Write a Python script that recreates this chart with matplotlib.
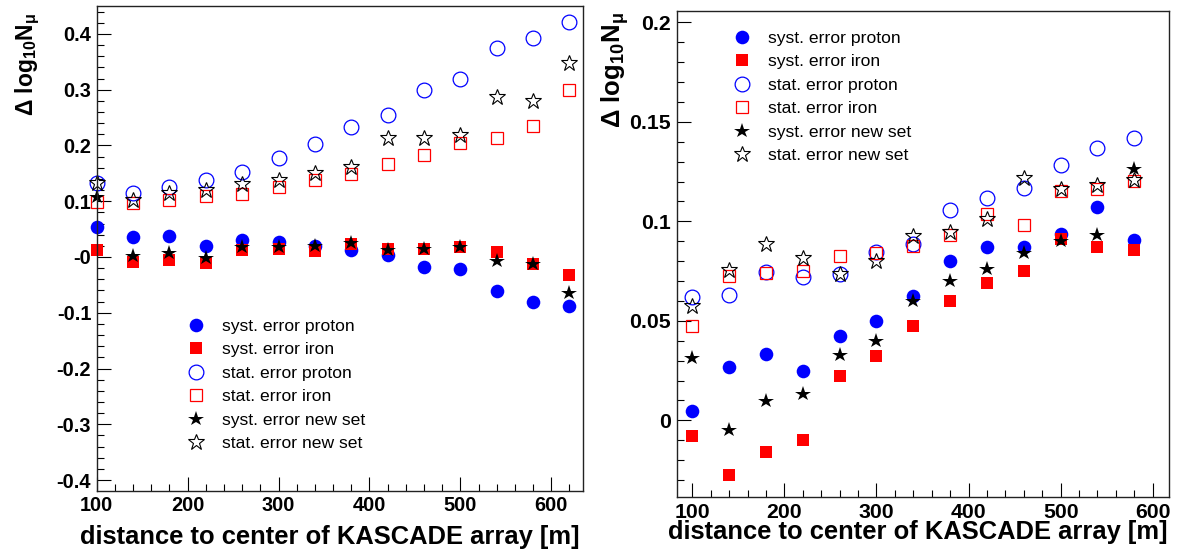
import matplotlib
matplotlib.use("Agg")
import matplotlib.pyplot as plt
from matplotlib.ticker import FixedLocator, MultipleLocator, FixedFormatter

# ---------------- data ----------------
distance_left = [100, 140, 180, 220, 260, 300, 340, 380, 420, 460, 500, 540, 580, 620]
syst_proton_left = [0.054, 0.036, 0.038, 0.019, 0.030, 0.027, 0.020, 0.012, 0.004, -0.018, -0.022, -0.061, -0.081, -0.087]
syst_iron_left = [0.012, -0.009, -0.005, -0.011, 0.013, 0.015, 0.011, 0.024, 0.015, 0.015, 0.018, 0.009, -0.012, -0.033]
stat_proton_left = [0.133, 0.115, 0.126, 0.138, 0.152, 0.177, 0.202, 0.233, 0.255, 0.299, 0.319, 0.374, 0.393, 0.421]
stat_iron_left = [0.098, 0.097, 0.103, 0.109, 0.113, 0.125, 0.138, 0.148, 0.167, 0.183, 0.205, 0.214, 0.235, 0.299]
syst_new_left = [0.108, 0.001, 0.007, -0.002, 0.018, 0.018, 0.019, 0.025, 0.012, 0.015, 0.018, -0.007, -0.012, -0.065]
stat_new_left = [0.133, 0.102, 0.114, 0.121, 0.130, 0.138, 0.151, 0.162, 0.214, 0.214, 0.219, 0.286, 0.280, 0.348]

distance_right = [100, 140, 180, 220, 260, 300, 340, 380, 420, 460, 500, 540, 580]
syst_proton_right = [0.0049, 0.0268, 0.0333, 0.0246, 0.0425, 0.0498, 0.0624, 0.0800, 0.0872, 0.0872, 0.0938, 0.1073, 0.0905]
syst_iron_right = [-0.0077, -0.0274, -0.0157, -0.0098, 0.0224, 0.0321, 0.0476, 0.0598, 0.0691, 0.0749, 0.0909, 0.0872, 0.0858]
stat_proton_right = [0.0618, 0.0632, 0.0745, 0.0720, 0.0733, 0.0847, 0.0887, 0.1056, 0.1115, 0.1169, 0.1283, 0.1370, 0.1421]
stat_iron_right = [0.0472, 0.0725, 0.0738, 0.0749, 0.0828, 0.0842, 0.0875, 0.0933, 0.1035, 0.0979, 0.1152, 0.1160, 0.1202]
syst_new_right = [0.0313, -0.0051, 0.0095, 0.0133, 0.0330, 0.0400, 0.0602, 0.0699, 0.0758, 0.0842, 0.0900, 0.0931, 0.1265]
stat_new_right = [0.0573, 0.0755, 0.0884, 0.0817, 0.0733, 0.0800, 0.0926, 0.0948, 0.1010, 0.1220, 0.1161, 0.1181, 0.1206]

series_labels = ["syst. error proton", "syst. error iron", "stat. error proton",
                 "stat. error iron", "syst. error new set", "stat. error new set"]

x_ticks = [100, 200, 300, 400, 500, 600]
x_tick_labels = ["100", "200", "300", "400", "500", "600"]
y_ticks_left = [-0.4, -0.3, -0.2, -0.1, 0.0, 0.1, 0.2, 0.3, 0.4]
y_tick_labels_left = ["-0.4", "-0.3", "-0.2", "-0.1", "-0", "0.1", "0.2", "0.3", "0.4"]
y_ticks_right = [0.0, 0.05, 0.1, 0.15, 0.2]
y_tick_labels_right = ["0", "0.05", "0.1", "0.15", "0.2"]

x_label = "distance to center of KASCADE array [m]"
y_label = r"$\Delta\ \mathbf{log}_{\mathbf{10}}\mathbf{N}_{\mu}$"

# ---------------- style ----------------
plt.rcParams["font.family"] = ["Liberation Sans", "DejaVu Sans"]
plt.rcParams["mathtext.fontset"] = "custom"
plt.rcParams["mathtext.rm"] = "Liberation Sans"
plt.rcParams["mathtext.bf"] = "Liberation Sans:bold"
plt.rcParams["mathtext.it"] = "Liberation Sans:italic"
plt.rcParams["mathtext.default"] = "bf"

W, H = 1179, 554
fig = plt.figure(figsize=(W / 100, H / 100), dpi=100)

BLUE = "#0000ff"
RED = "#ff0000"
BLACK = "#000000"


def px_rect(l, t, r, b):
    return [l / W, 1 - b / H, (r - l) / W, (b - t) / H]


styles = [
    dict(marker="o", ms=9.8, mfc=BLUE, mec=BLUE, mew=0),
    dict(marker="s", ms=9.0, mfc=RED, mec=RED, mew=0),
    dict(marker="o", ms=10.6, mfc="none", mec=BLUE, mew=0.9),
    dict(marker="s", ms=8.8, mfc="none", mec=RED, mew=0.9),
    dict(marker="*", ms=11.5, mfc=BLACK, mec=BLACK, mew=0),
    dict(marker="*", ms=12.0, mfc="none", mec=BLACK, mew=0.8),
]


def make_panel(rect, x, ys, xlim, ylim, yticks, yticklabels, yminor, tick_fs,
               legend_anchor):
    ax = fig.add_axes(rect)
    handles = []
    for y, st, lab in zip(ys, styles, series_labels):
        h, = ax.plot(x, y, linestyle="none", clip_on=False, label=lab, **st)
        handles.append(h)
    ax.set_xlim(*xlim)
    ax.set_ylim(*ylim)
    ax.xaxis.set_major_locator(FixedLocator(x_ticks))
    ax.xaxis.set_major_formatter(FixedFormatter(x_tick_labels))
    ax.xaxis.set_minor_locator(MultipleLocator(20))
    ax.yaxis.set_major_locator(FixedLocator(yticks))
    ax.yaxis.set_major_formatter(FixedFormatter(yticklabels))
    ax.yaxis.set_minor_locator(MultipleLocator(yminor))
    ax.tick_params(which="both", direction="in", top=False, right=False,
                   width=0.8, colors="black")
    ax.tick_params(which="major", length=10, pad=4, labelsize=tick_fs)
    ax.tick_params(which="minor", length=5)
    for lab in ax.get_xticklabels() + ax.get_yticklabels():
        lab.set_fontweight("bold")
    for sp in ax.spines.values():
        sp.set_linewidth(1.0)
        sp.set_color("#222222")
    ax.legend(handles=handles, loc="upper left",
              bbox_to_anchor=(legend_anchor[0] / W, 1 - legend_anchor[1] / H),
              bbox_transform=fig.transFigure, frameon=False,
              fontsize=12.6, handlelength=1.0, handletextpad=0.99,
              labelspacing=0.47, borderpad=0, borderaxespad=0,
              numpoints=1)
    return ax


make_panel(px_rect(96.7, 6, 582.5, 490.7), distance_left,
           [syst_proton_left, syst_iron_left, stat_proton_left, stat_iron_left,
            syst_new_left, stat_new_left],
           (100, 634.4), (-0.419, 0.450), y_ticks_left, y_tick_labels_left,
           0.02, 14.4, (187, 318.5))

make_panel(px_rect(676.7, 11, 1169, 497.3), distance_right,
           [syst_proton_right, syst_iron_right, stat_proton_right, stat_iron_right,
            syst_new_right, stat_new_right],
           (83.1, 617.7), (-0.0387, 0.2057), y_ticks_right, y_tick_labels_right,
           0.01, 15.3, (733.5, 30.5))

fig.text(580 / W, 1 - 536.7 / H, x_label, ha="right", va="center",
         fontsize=18.4, fontweight="bold")
fig.text(1168 / W, 1 - 531.7 / H, x_label, ha="right", va="center",
         fontsize=18.4, fontweight="bold")
fig.text(28 / W, 1 - 13 / H, y_label, ha="center", va="top", rotation=90,
         fontsize=16.5)
fig.text(615 / W, 1 - 12 / H, y_label, ha="center", va="top", rotation=90,
         fontsize=18.5)

fig.savefig("out.png", dpi=100)
